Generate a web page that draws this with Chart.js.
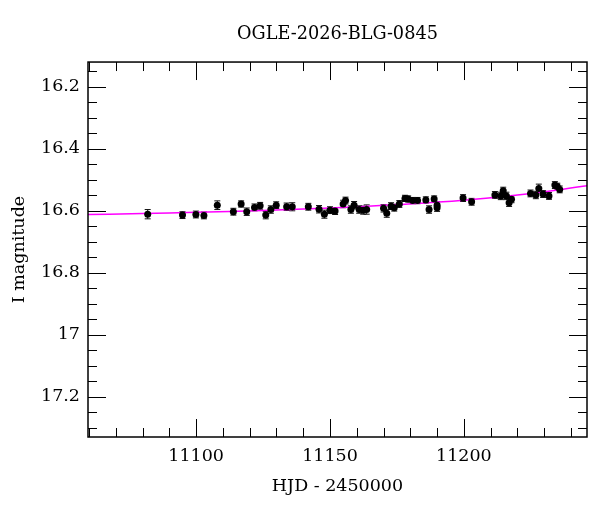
<!DOCTYPE html>
<html>
<head>
<meta charset="utf-8">
<script src="https://cdn.jsdelivr.net/npm/chart.js@4.4.0/dist/chart.umd.min.js"></script>
<style>
html, body { margin: 0; padding: 0; background: #fff; }
</style>
</head>
<body>
<canvas id="lightCurve" width="600" height="512"></canvas>
<script>
// photometry
const hjd = [11081.9, 11094.9, 11099.9, 11102.9, 11107.9, 11113.9, 11116.8, 11118.9, 11121.8, 11123.9,
             11126.0, 11127.9, 11129.9, 11133.8, 11135.9, 11141.9, 11145.9, 11147.9, 11150.0, 11151.9,
             11154.9, 11155.8, 11157.8, 11159.0, 11160.9, 11162.4, 11163.7, 11170.0, 11171.2, 11172.8,
             11174.0, 11175.9, 11178.0, 11179.2, 11180.9, 11182.7, 11185.8, 11187.0, 11188.9, 11190.0,
             11190.0, 11199.7, 11202.9, 11211.6, 11213.8, 11214.7, 11215.9, 11216.9, 11217.8, 11224.9,
             11226.9, 11228.0, 11229.6, 11231.8, 11234.0, 11234.9, 11235.8];
const mag = [16.611, 16.614, 16.612, 16.615, 16.582, 16.603, 16.578, 16.603, 16.589, 16.584,
             16.614, 16.596, 16.582, 16.587, 16.587, 16.587, 16.595, 16.611, 16.598, 16.601,
             16.578, 16.567, 16.596, 16.582, 16.596, 16.598, 16.596, 16.592, 16.608, 16.585,
             16.590, 16.578, 16.560, 16.562, 16.567, 16.567, 16.565, 16.596, 16.562, 16.582,
             16.590, 16.559, 16.571, 16.549, 16.552, 16.535, 16.552, 16.574, 16.563, 16.544,
             16.549, 16.528, 16.546, 16.552, 16.517, 16.522, 16.531];
const magErr = [0.015, 0.011, 0.011, 0.011, 0.014, 0.011, 0.010, 0.012, 0.011, 0.011,
                0.012, 0.012, 0.011, 0.012, 0.013, 0.011, 0.012, 0.013, 0.011, 0.011,
                0.012, 0.011, 0.012, 0.012, 0.012, 0.013, 0.015, 0.012, 0.013, 0.011,
                0.011, 0.011, 0.010, 0.010, 0.010, 0.010, 0.010, 0.012, 0.010, 0.011,
                0.012, 0.011, 0.011, 0.011, 0.012, 0.011, 0.012, 0.012, 0.011, 0.011,
                0.012, 0.014, 0.011, 0.011, 0.011, 0.011, 0.011];

// model curve (magenta)
const modelHjd = [11055, 11080, 11100, 11125, 11150, 11175, 11200, 11220, 11235, 11250];
const modelMag = [16.613, 16.609, 16.605, 16.599, 16.591, 16.580, 16.566, 16.549, 16.533, 16.514];

// labelled ticks
const xTickValues = [11100, 11150, 11200];
const yTickValues = [16.2, 16.4, 16.6, 16.8, 17, 17.2];

const serif = 'DejaVu Serif';
const labelFont = { family: serif, size: 17.5 };

// frame plus inward ticks on all four sides
const frameTicks = {
    id: 'frameTicks',
    afterDraw(chart) {
        const { ctx, chartArea: a, scales: { x, y } } = chart;
        ctx.save();
        ctx.strokeStyle = '#000';
        ctx.lineWidth = 1;
        ctx.beginPath();
        for (let v = Math.ceil(x.min / 10) * 10; v <= x.max; v += 10) {
            const px = Math.round(x.getPixelForValue(v)) + 0.5;
            const len = v % 50 === 0 ? 18 : 9;
            ctx.moveTo(px, a.bottom); ctx.lineTo(px, a.bottom - len);
            ctx.moveTo(px, a.top); ctx.lineTo(px, a.top + len);
        }
        for (let k = Math.ceil(y.min * 20); k <= y.max * 20; k++) {
            const py = Math.round(y.getPixelForValue(k / 20)) + 0.5;
            const len = k % 4 === 0 ? 18 : 9;
            ctx.moveTo(a.left, py); ctx.lineTo(a.left + len, py);
            ctx.moveTo(a.right, py); ctx.lineTo(a.right - len, py);
        }
        ctx.stroke();
        ctx.lineWidth = 1.5;
        ctx.strokeRect(a.left, a.top, a.width, a.height);
        ctx.restore();
    }
};

const errorBars = {
    id: 'errorBars',
    beforeDatasetsDraw(chart) {
        const { ctx, scales: { x, y } } = chart;
        ctx.save();
        ctx.strokeStyle = '#111';
        ctx.lineWidth = 1;
        hjd.forEach((t, i) => {
            const px = x.getPixelForValue(t);
            const top = y.getPixelForValue(mag[i] - magErr[i]);
            const bot = y.getPixelForValue(mag[i] + magErr[i]);
            ctx.beginPath();
            ctx.moveTo(px, top); ctx.lineTo(px, bot);
            ctx.moveTo(px - 3, top); ctx.lineTo(px + 3, top);
            ctx.moveTo(px - 3, bot); ctx.lineTo(px + 3, bot);
            ctx.stroke();
        });
        ctx.restore();
    }
};

new Chart(document.getElementById('lightCurve').getContext('2d'), {
    type: 'scatter',
    data: {
        datasets: [{
            label: 'OGLE I',
            data: hjd.map((t, i) => ({ x: t, y: mag[i] })),
            backgroundColor: '#000',
            borderWidth: 0,
            pointRadius: 3.5,
            order: 0
        }, {
            label: 'model',
            data: modelHjd.map((t, i) => ({ x: t, y: modelMag[i] })),
            showLine: true,
            borderColor: '#ff00ff',
            borderWidth: 1.5,
            pointRadius: 0,
            tension: 0.4,
            order: 1
        }]
    },
    options: {
        responsive: false,
        animation: false,
        layout: { padding: { right: 13 } },
        plugins: {
            legend: { display: false },
            tooltip: { enabled: false },
            title: {
                display: true,
                fullSize: false,
                text: 'OGLE-2026-BLG-0845',
                color: '#000',
                font: { family: serif, size: 17.7, weight: 'normal' },
                padding: { top: 24, bottom: 16.8 }
            }
        },
        scales: {
            x: {
                type: 'linear',
                min: 11059.6,
                max: 11246,
                grid: { display: false, drawTicks: false },
                border: { display: false },
                afterBuildTicks: s => { s.ticks = xTickValues.map(v => ({ value: v })); },
                afterFit: s => { s.height = 75; },
                ticks: { color: '#000', font: labelFont, padding: 9, maxRotation: 0, autoSkip: false, callback: v => String(v) },
                title: { display: true, text: 'HJD - 2450000', color: '#000', font: labelFont, padding: { top: 8, bottom: 15 } }
            },
            y: {
                type: 'linear',
                reverse: true,
                min: 16.12,
                max: 17.33,
                grid: { display: false, drawTicks: false },
                border: { display: false },
                afterBuildTicks: s => { s.ticks = yTickValues.map(v => ({ value: v })); },
                afterFit: s => { s.width = 88; },
                ticks: { color: '#000', font: labelFont, padding: 8, autoSkip: false, callback: v => String(v) },
                title: { display: true, text: 'I magnitude', color: '#000', font: labelFont, padding: { top: 9, bottom: 0 } }
            }
        }
    },
    plugins: [errorBars, frameTicks]
});
</script>
</body>
</html>
